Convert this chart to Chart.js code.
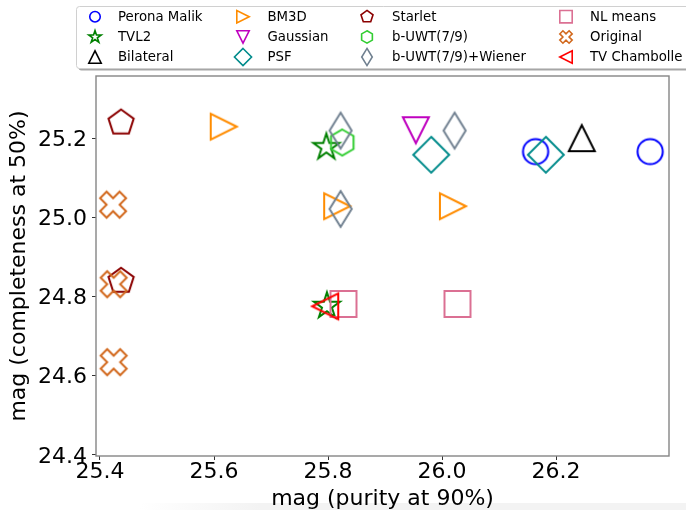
<!DOCTYPE html>
<html lang="en">
<head>
<meta charset="UTF-8" />
<title>Purity vs completeness magnitudes</title>
<script src="https://cdn.jsdelivr.net/npm/chart.js@4"></script>
<style>
  body { margin: 0; background: #fff; }
  canvas { display: block; }
</style>
</head>
<body>
<canvas id="myChart" width="686" height="510"></canvas>
<script>
// values: x = mag (purity at 90%), y = mag (completeness at 50%)
const methods = ['Perona Malik', 'TVL2', 'Bilateral', 'BM3D', 'Gaussian', 'PSF',
  'Starlet', 'b-UWT(7/9)', 'b-UWT(7/9)+Wiener', 'NL means', 'Original', 'TV Chambolle'];

const peronaX = [26.164, 26.365];
const peronaY = [25.166, 25.166];
const tvl2X = [25.797, 25.798];
const tvl2Y = [25.177, 24.776];
const bilateralX = [26.245];
const bilateralY = [25.2];
const bm3dX = [25.617, 25.816, 26.019];
const bm3dY = [25.229, 25.028, 25.028];
const gaussianX = [25.954];
const gaussianY = [25.220];
const psfX = [25.981, 26.182];
const psfY = [25.158, 25.158];
const starletX = [25.437, 25.437];
const starletY = [25.239, 24.839];
const buwtX = [25.825];
const buwtY = [25.189];
const wienerX = [25.822, 25.822, 26.022];
const wienerY = [25.219, 25.021, 25.219];
const nlmeansX = [25.827, 26.027];
const nlmeansY = [24.781, 24.781];
const originalX = [25.423, 25.424, 25.424];
const originalY = [25.032, 24.831, 24.634];
const chambolleX = [25.795];
const chambolleY = [24.775];

const xTicks = [25.4, 25.6, 25.8, 26.0, 26.2];
const yTicks = [24.4, 24.6, 24.8, 25.0, 25.2];

const seriesX = [peronaX, tvl2X, bilateralX, bm3dX, gaussianX, psfX,
  starletX, buwtX, wienerX, nlmeansX, originalX, chambolleX];
const seriesY = [peronaY, tvl2Y, bilateralY, bm3dY, gaussianY, psfY,
  starletY, buwtY, wienerY, nlmeansY, originalY, chambolleY];

// matplotlib-like marker + colour for each method
const shapes = ['o', '*', '^', '>', 'v', 'D', 'p', 'h', 'd', 's', 'X', '<'];
const colors = ['#0000ff', '#008000', '#000000', '#ff8c00', '#bf00bf', '#008b8b',
  '#8b0000', '#32cd32', '#708090', '#db7093', '#d2691e', '#ff0000'];

const FONT = 'DejaVu Sans';

function markerPath(ctx, shape, s) {
  const poly = pts => {
    pts.forEach((p, i) => i ? ctx.lineTo(p[0], p[1]) : ctx.moveTo(p[0], p[1]));
    ctx.closePath();
  };
  const ngon = (n, r, r2) => {
    const pts = [];
    const k = r2 ? n * 2 : n;
    for (let i = 0; i < k; i++) {
      const a = -Math.PI / 2 + i * 2 * Math.PI / k;
      const rr = r2 && i % 2 ? r2 : r;
      pts.push([rr * Math.cos(a), rr * Math.sin(a)]);
    }
    poly(pts);
  };
  ctx.beginPath();
  switch (shape) {
    case 'o': ctx.arc(0, 0, s * 0.97, 0, Math.PI * 2); break;
    case '^': poly([[0, -s], [-s, s], [s, s]]); break;
    case 'v': poly([[0, s], [-s, -s], [s, -s]]); break;
    case '>': poly([[s, 0], [-s, -s], [-s, s]]); break;
    case '<': poly([[-s, 0], [s, -s], [s, s]]); break;
    case 'D': poly([[0, -1.38 * s], [1.38 * s, 0], [0, 1.38 * s], [-1.38 * s, 0]]); break;
    case 'd': poly([[0, -1.38 * s], [0.85 * s, 0], [0, 1.38 * s], [-0.85 * s, 0]]); break;
    case 's': poly([[-s, -s], [s, -s], [s, s], [-s, s]]); break;
    case 'p': ngon(5, s * 1.02); break;
    case 'h': ngon(6, s); break;
    case '*': ngon(5, s * 1.05, s * 1.05 * 0.382); break;
    case 'X': {
      const u = s / 2.83, c = Math.SQRT1_2;
      const plus = [[-1, -3], [1, -3], [1, -1], [3, -1], [3, 1], [1, 1], [1, 3], [-1, 3], [-1, 1], [-3, 1], [-3, -1], [-1, -1]];
      poly(plus.map(([a, b]) => [u * (a - b) * c, u * (a + b) * c]));
      break;
    }
  }
}

function makeMarker(shape, color, s, lw) {
  const size = 2 * Math.ceil(1.5 * s + lw + 1);
  const cv = document.createElement('canvas');
  cv.width = size; cv.height = size;
  const c = cv.getContext('2d');
  c.translate(size / 2, size / 2);
  markerPath(c, shape, s);
  c.lineWidth = lw;
  c.lineJoin = 'miter';
  c.strokeStyle = color;
  c.stroke();
  return cv;
}

const datasets = methods.map((name, i) => ({
  label: name,
  data: seriesX[i].map((x, j) => ({ x: x, y: seriesY[i][j] })),
  pointStyle: makeMarker(shapes[i], colors[i], 13, 2),
  pointRadius: 13,
  borderColor: colors[i],
  backgroundColor: 'transparent',
  order: methods.length - i // later series drawn on top, like matplotlib
}));

const legendCols = [95, 243, 367, 566];
const textCols = [118, 267.5, 392, 590];
const legendRows = [16.7, 37, 57];

const legendBox = {
  id: 'legendBox',
  beforeDraw(chart) {
    const ctx = chart.ctx;
    ctx.save();
    ctx.fillStyle = '#fff';
    ctx.fillRect(0, 0, chart.width, chart.height);
    const g = ctx.createLinearGradient(140, 0, 260, 0);
    g.addColorStop(0, 'rgba(235,235,235,0)');
    g.addColorStop(1, 'rgba(235,235,235,0.6)');
    ctx.fillStyle = g;
    ctx.fillRect(140, 503, 546, 7);
    ctx.restore();
  },
  afterDraw(chart) {
    const ctx = chart.ctx;
    const a = chart.chartArea;
    ctx.save();
    // axes frame
    ctx.strokeStyle = '#858585';
    ctx.lineWidth = 1.4;
    ctx.strokeRect(a.left, a.top, a.right - a.left, a.bottom - a.top);

    // legend box with shadow
    ctx.fillStyle = 'rgba(0,0,0,0.35)';
    ctx.beginPath();
    ctx.roundRect(78.5, 8.5, 640, 62, 3);
    ctx.fill();
    ctx.fillStyle = 'rgba(255,255,255,1)';
    ctx.strokeStyle = '#d0d0d0';
    ctx.lineWidth = 1;
    ctx.beginPath();
    ctx.roundRect(76.5, 6.5, 640, 62, 3);
    ctx.fill();
    ctx.stroke();

    ctx.font = '13.3px "' + FONT + '"';
    ctx.textBaseline = 'middle';
    ctx.textAlign = 'left';
    ctx.fillStyle = '#000';
    methods.forEach((name, i) => {
      const col = Math.floor(i / 3), row = i % 3;
      ctx.save();
      ctx.translate(legendCols[col], legendRows[row]);
      markerPath(ctx, shapes[i], shapes[i] === 'o' ? 5.4 : 6.2);
      ctx.lineWidth = 1.6;
      ctx.strokeStyle = colors[i];
      ctx.stroke();
      ctx.restore();
      ctx.fillText(name, textCols[col], legendRows[row] + 0.5);
    });
    ctx.restore();
  }
};

const tickFont = { family: FONT, size: 22, lineHeight: 1 };

new Chart(document.getElementById('myChart'), {
  type: 'scatter',
  data: { datasets: datasets },
  plugins: [legendBox],
  options: {
    responsive: false,
    animation: false,
    devicePixelRatio: 1,
    layout: { padding: { top: 76, right: 17, left: 0, bottom: 0 } },
    plugins: { legend: { display: false }, tooltip: { enabled: false } },
    scales: {
      x: {
        type: 'linear',
        min: 25.393,
        max: 26.398,
        afterBuildTicks: s => { s.ticks = xTicks.map(v => ({ value: v })); },
        afterFit: s => { s.height = 54; },
        grid: { drawOnChartArea: false, tickLength: 4, tickColor: '#333', tickWidth: 1 },
        border: { display: false },
        ticks: { padding: 1, color: '#000', font: tickFont, maxRotation: 0, autoSkip: false,
          callback: v => v.toFixed(1) },
        title: { display: true, text: 'mag (purity at 90%)', color: '#000',
          font: tickFont, padding: { top: 0, bottom: 0 } }
      },
      y: {
        type: 'linear',
        min: 24.397,
        max: 25.357,
        afterBuildTicks: s => { s.ticks = yTicks.map(v => ({ value: v })); },
        afterFit: s => { s.width = 96; },
        grid: { drawOnChartArea: false, tickLength: 4, tickColor: '#333', tickWidth: 1 },
        border: { display: false },
        ticks: { padding: 5, labelOffset: 2, color: '#000', font: tickFont, autoSkip: false,
          callback: v => v.toFixed(1) },
        title: { display: true, text: 'mag (completeness at 50%)', color: '#000',
          font: tickFont, padding: { top: 8.5, bottom: 0 } }
      }
    }
  }
});
</script>
</body>
</html>
